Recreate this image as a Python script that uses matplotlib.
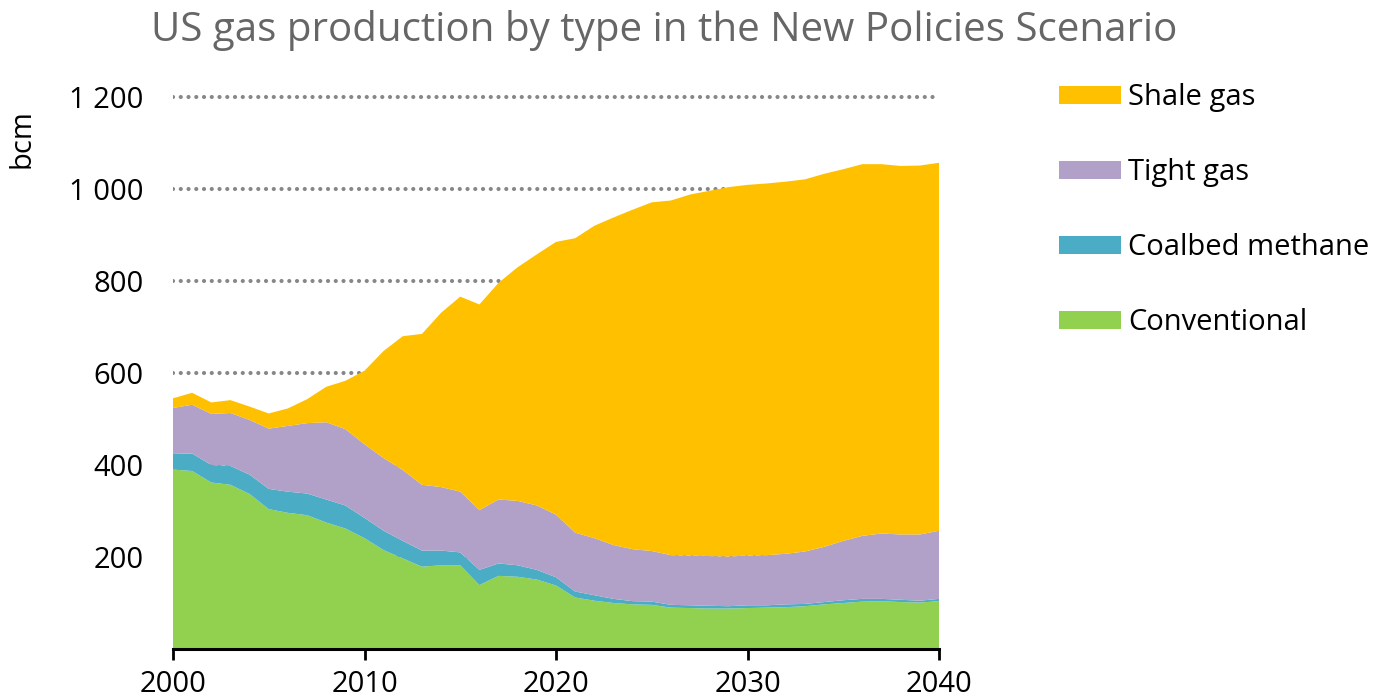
import matplotlib
matplotlib.use("Agg")
import matplotlib.pyplot as plt
from matplotlib.patches import Rectangle

years = list(range(2000, 2041))
conventional = [390, 387, 362, 357, 337, 304, 296, 291, 275, 262, 241, 215, 197, 179, 182, 182, 139, 159, 157, 151,
                138, 112, 105, 100, 97, 96, 90, 89, 88, 88, 89, 90, 91, 93, 97, 100, 103, 104, 102, 101, 104]
coalbed = [34, 38, 38, 41, 42, 44, 46, 47, 50, 50, 44, 42, 38, 35, 32, 28, 33, 27, 25, 21,
           18, 13, 12, 9, 7, 7, 6, 6, 6, 5, 6, 5, 6, 5, 5, 6, 6, 5, 5, 4, 5]
tight = [100, 106, 111, 115, 119, 131, 143, 153, 168, 166, 160, 158, 154, 143, 138, 132, 130, 139, 140, 140,
         136, 128, 124, 117, 113, 110, 108, 108, 108, 108, 108, 109, 110, 114, 120, 129, 137, 142, 142, 144, 148]
shale = [21, 26, 25, 28, 29, 33, 38, 52, 77, 105, 160, 233, 291, 328, 379, 424, 447, 471, 508, 546,
         593, 640, 679, 712, 738, 758, 771, 785, 794, 803, 806, 808, 809, 809, 811, 808, 808, 803, 801, 802, 800]

series_names = ["Conventional", "Coalbed methane", "Tight gas", "Shale gas"]
colors = ["#92D050", "#4BACC6", "#B1A0C7", "#FFC000"]
yticks = [200, 400, 600, 800, 1000, 1200]
ytick_labels = ["200", "400", "600", "800", "1 000", "1 200"]
xticks = [2000, 2010, 2020, 2030, 2040]
title = "US gas production by type in the New Policies Scenario"
ylabel = "bcm"

W, H = 1383, 697
fig = plt.figure(figsize=(W / 100, H / 100), dpi=100)
font = "Open Sans"

ymax = 1220
x0, x1 = 173, 939
y0, y1200 = 649, 97
ax_h = (y0 - y1200) * ymax / 1200
ax = fig.add_axes([x0 / W, (H - y0) / H, (x1 - x0) / W, ax_h / H])

ax.stackplot(years, conventional, coalbed, tight, shale, colors=colors, linewidth=0, zorder=2)

ax.set_xlim(2000, 2040)
ax.set_ylim(0, ymax)

for v in yticks:
    ax.axhline(v, color="#878787", linewidth=3.0, linestyle=(0, (0.01, 1.85)),
               dash_capstyle="round", zorder=1)

ax.set_yticks(yticks)
ax.set_yticklabels(ytick_labels, fontsize=21, fontname=font)
ax.tick_params(axis="y", length=0, pad=21)
ax.set_xticks(xticks)
ax.set_xticklabels([str(x) for x in xticks], fontsize=21, fontname=font)
ax.tick_params(axis="x", length=8, width=2, direction="out", pad=7, color="black")

for s in ["top", "right", "left"]:
    ax.spines[s].set_visible(False)
ax.spines["bottom"].set_linewidth(2.2)
ax.spines["bottom"].set_zorder(5)

fig.text(664 / W, 1 - 41 / H, title, fontsize=29, fontname=font, color="#666666",
         ha="center", va="baseline")
fig.text(22 / W, 1 - 139 / H, ylabel, fontsize=21, fontname=font, rotation=90,
         ha="center", va="center")

# legend, top to bottom: reverse stacking order
row_centers = [95, 170, 245, 320]
for name, col, yc in zip(series_names[::-1], colors[::-1], row_centers):
    fig.patches.append(Rectangle((1059 / W, 1 - (yc + 9) / H), 62 / W, 18 / H,
                                 transform=fig.transFigure, facecolor=col, edgecolor="none"))
    fig.text(1128 / W, 1 - (yc + 10) / H, name, fontsize=21, fontname=font,
             ha="left", va="baseline")

fig.savefig("out.png", dpi=100)
